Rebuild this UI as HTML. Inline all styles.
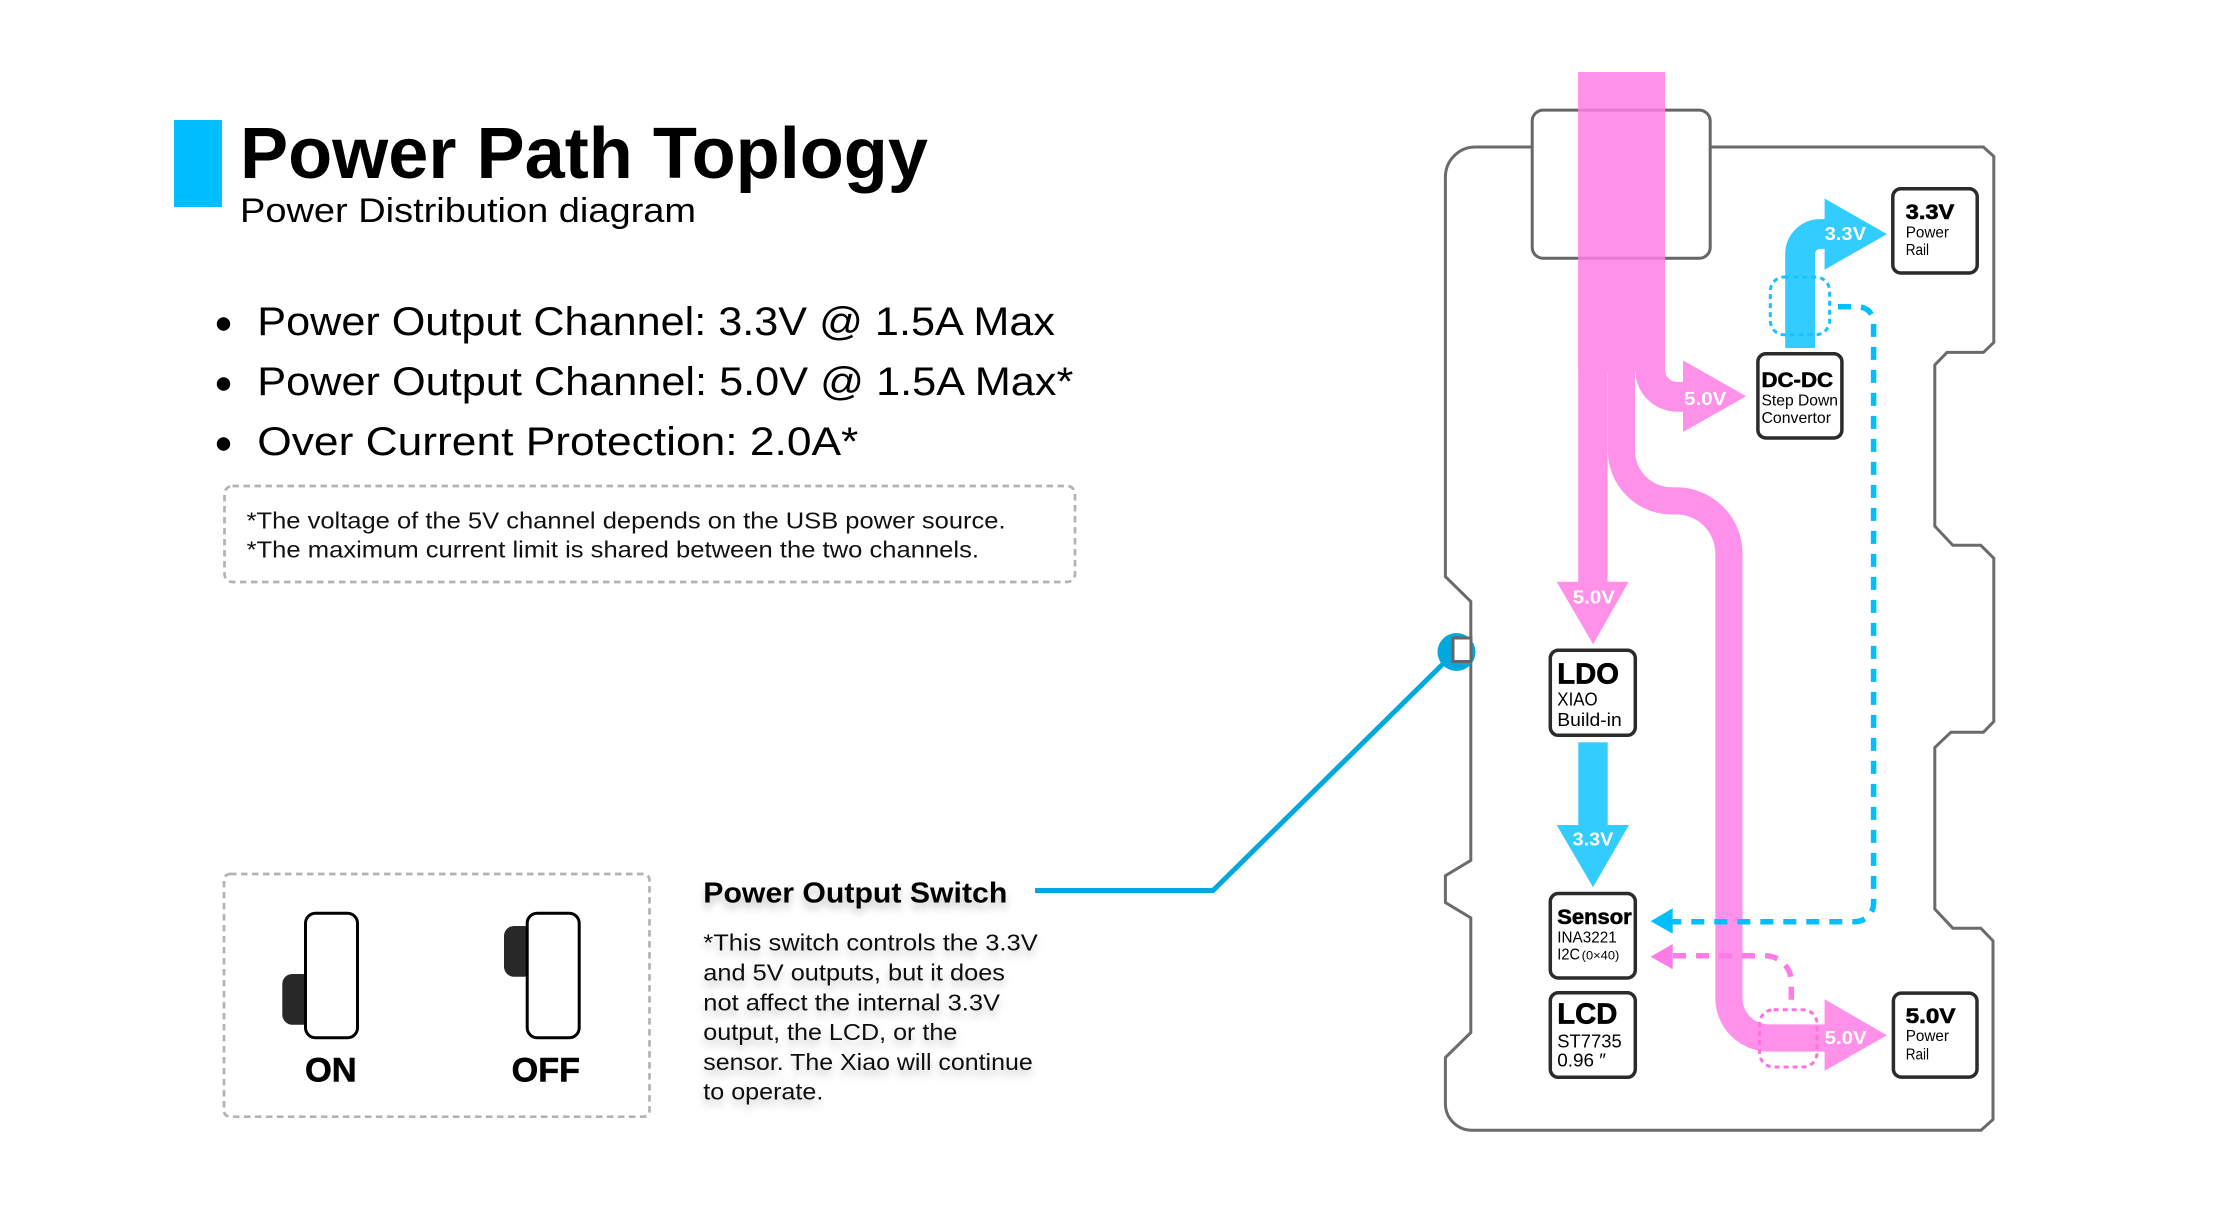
<!DOCTYPE html>
<html><head><meta charset="utf-8"><style>html,body{margin:0;padding:0;background:#fff}svg{display:block}</style></head>
<body>
<svg xmlns="http://www.w3.org/2000/svg" width="2223" height="1218" viewBox="0 0 2223 1218" font-family="'Liberation Sans', Arial, sans-serif">
<defs>
<filter id="sh" x="-10%" y="-40%" width="120%" height="180%"><feDropShadow dx="0" dy="6" stdDeviation="4" flood-color="#000" flood-opacity="0.22"/></filter>
</defs>
<rect width="2223" height="1218" fill="#fff"/>

<!-- Title -->
<rect x="174" y="120" width="48" height="87" fill="#00BFFF"/>
<text x="240" y="178" font-size="72" font-weight="bold" fill="#000" textLength="688" lengthAdjust="spacingAndGlyphs">Power Path Toplogy</text>
<text x="240" y="222" font-size="34" fill="#000" textLength="456" lengthAdjust="spacingAndGlyphs">Power Distribution diagram</text>

<!-- Bullets -->
<circle cx="223.5" cy="324" r="6.7" fill="#000"/>
<circle cx="223.5" cy="384" r="6.7" fill="#000"/>
<circle cx="223.5" cy="444" r="6.7" fill="#000"/>
<text x="257.3" y="335" font-size="39.5" fill="#000" textLength="797.7" lengthAdjust="spacingAndGlyphs">Power Output Channel: 3.3V @ 1.5A Max</text>
<text x="257.3" y="395" font-size="39.5" fill="#000" textLength="816" lengthAdjust="spacingAndGlyphs">Power Output Channel: 5.0V @ 1.5A Max*</text>
<text x="257.3" y="455" font-size="39.5" fill="#000" textLength="601" lengthAdjust="spacingAndGlyphs">Over Current Protection: 2.0A*</text>

<!-- Note box -->
<rect x="224.5" y="486" width="850.5" height="96" rx="8" fill="none" stroke="#b3b3b3" stroke-width="2.7" stroke-dasharray="6.5 4.5"/>
<text x="246.6" y="528.5" font-size="23" fill="#111" textLength="759" lengthAdjust="spacingAndGlyphs">*The voltage of the 5V channel depends on the USB power source.</text>
<text x="246.6" y="557.5" font-size="23" fill="#111" textLength="732.4" lengthAdjust="spacingAndGlyphs">*The maximum current limit is shared between the two channels.</text>

<!-- Switch panel -->
<rect x="224" y="874" width="425.5" height="242.7" rx="6" fill="none" stroke="#b3b3b3" stroke-width="2.7" stroke-dasharray="6.5 4.5"/>
<rect x="282.3" y="974" width="30" height="50.7" rx="10" fill="#282828"/>
<rect x="305.5" y="913.2" width="52" height="124.6" rx="10" fill="#fff" stroke="#000" stroke-width="3"/>
<rect x="504" y="926" width="30" height="50.7" rx="10" fill="#282828"/>
<rect x="527.2" y="913.2" width="52" height="124.6" rx="10" fill="#fff" stroke="#000" stroke-width="3"/>
<text x="305" y="1081.7" font-size="34" font-weight="bold" fill="#000" stroke="#000" stroke-width="0.6" textLength="51.7" lengthAdjust="spacingAndGlyphs">ON</text>
<text x="511.7" y="1081.7" font-size="34" font-weight="bold" fill="#000" stroke="#000" stroke-width="0.6" textLength="68.3" lengthAdjust="spacingAndGlyphs">OFF</text>

<!-- Switch description -->
<g filter="url(#sh)">
<text x="703.3" y="902.7" font-size="29" font-weight="bold" fill="#000" textLength="304" lengthAdjust="spacingAndGlyphs">Power Output Switch</text>
<text x="703.3" y="950.7" font-size="23" fill="#111" textLength="334.4" lengthAdjust="spacingAndGlyphs">*This switch controls the 3.3V</text>
<text x="703.3" y="980.5" font-size="23" fill="#111" textLength="301.7" lengthAdjust="spacingAndGlyphs">and 5V outputs, but it does</text>
<text x="703.3" y="1010.3" font-size="23" fill="#111" textLength="296.7" lengthAdjust="spacingAndGlyphs">not affect the internal 3.3V</text>
<text x="703.3" y="1040.2" font-size="23" fill="#111" textLength="254" lengthAdjust="spacingAndGlyphs">output, the LCD, or the</text>
<text x="703.3" y="1070" font-size="23" fill="#111" textLength="329.4" lengthAdjust="spacingAndGlyphs">sensor. The Xiao will continue</text>
<text x="703.3" y="1099.5" font-size="23" fill="#111" textLength="120" lengthAdjust="spacingAndGlyphs">to operate.</text>
</g>

<!-- Connector line -->
<path d="M1035,890.5 H1213 L1450,657" fill="none" stroke="#00A8DE" stroke-width="5"/>

<!-- Board outline -->
<path d="M1445.4,177 A30,30 0 0 1 1475.4,147 H1983.4 L1993.8,156.4 V342.4 L1983.4,352.4 H1947 L1934.8,365 V526.1 L1952.8,545.3 H1980.8 L1993.8,558.3 V721.5 L1983.4,732.2 H1950.9 L1934.8,747.5 V909 L1952.8,928.2 H1980.8 L1993,940.8 V1119.5 L1981,1130.2 H1472 A26.6,26.6 0 0 1 1445.4,1103.6 V1057.5 L1470.8,1032.6 V917.8 L1445.4,902.5 V875.7 L1470.8,860.4 V601.5 L1445.4,576.6 Z" fill="none" stroke="#6b6b6b" stroke-width="3"/>

<!-- switch connector on board -->
<circle cx="1456.5" cy="652" r="19" fill="#00A8DE"/>
<rect x="1453" y="638" width="18" height="23.5" fill="#fff" stroke="#666" stroke-width="3"/>

<!-- USB connector -->
<rect x="1532.2" y="110.1" width="178" height="148.2" rx="11" fill="#fff" stroke="#666" stroke-width="3"/>

<!-- Pink power paths -->
<g opacity="0.85">
  <rect x="1578.2" y="72" width="86.8" height="300" fill="#FF7EE6"/>
  <rect x="1578.2" y="72" width="29.4" height="510.5" fill="#FF7EE6"/>
  <polygon points="1556.7,581.8 1628.7,581.8 1593.1,644.2" fill="#FF7EE6"/>
  <path d="M1650.1,72 V369.8 A27,27 0 0 0 1677.1,396.8 H1686" fill="none" stroke="#FF7EE6" stroke-width="29.8"/>
  <polygon points="1683,360.4 1683,432 1746.2,396.2" fill="#FF7EE6"/>
  <path d="M1621.4,72 V450.4 A50.5,50.5 0 0 0 1671.9,500.9 H1676.3 A52.6,52.6 0 0 1 1728.9,553.5 V998 A40,40 0 0 0 1768.9,1038 H1828" fill="none" stroke="#FF7EE6" stroke-width="27.2"/>
  <polygon points="1824.6,999.3 1824.6,1070.9 1887,1035.3" fill="#FF7EE6"/>
</g>

<!-- Blue paths -->
<rect x="1578.3" y="742.3" width="29.4" height="83.5" fill="#33CCFF"/>
<polygon points="1556.7,825 1629,825 1593,887.3" fill="#33CCFF"/>
<path d="M1800.1,348 V254 A20,20 0 0 1 1820.1,234 H1828" fill="none" stroke="#33CCFF" stroke-width="29.8"/>
<polygon points="1824.6,198.5 1824.6,269.7 1887,234.1" fill="#33CCFF"/>

<!-- Arrow labels -->
<g font-size="18" font-weight="bold" fill="#fff">
<text x="1684.2" y="405.2" textLength="42.1" lengthAdjust="spacingAndGlyphs">5.0V</text>
<text x="1824.6" y="239.9" textLength="41.4" lengthAdjust="spacingAndGlyphs">3.3V</text>
<text x="1572.8" y="603.4" textLength="42.1" lengthAdjust="spacingAndGlyphs">5.0V</text>
<text x="1572.7" y="845.7" textLength="40.6" lengthAdjust="spacingAndGlyphs">3.3V</text>
<text x="1824.6" y="1044.1" textLength="42.1" lengthAdjust="spacingAndGlyphs">5.0V</text>
</g>

<!-- dotted rects -->
<rect x="1770.3" y="277" width="59.3" height="57.8" rx="14" fill="none" stroke="#1AC0FF" stroke-width="3" stroke-dasharray="5 4"/>
<rect x="1759.6" y="1009.7" width="57.4" height="57.3" rx="14" fill="none" stroke="#FF70E0" stroke-width="3" stroke-dasharray="5 4"/>

<!-- dashed connectors -->
<path d="M1838,306.8 H1858 A15.6,15.6 0 0 1 1873.6,322.4 V903 A18.7,18.7 0 0 1 1854.9,921.7 H1672" fill="none" stroke="#00BFFF" stroke-width="5.5" stroke-dasharray="13 10"/>
<polygon points="1650.7,921.2 1672.7,908.3 1672.7,933.8" fill="#00BFFF"/>
<path d="M1673,955.8 H1765.3 A26,26 0 0 1 1791.3,981.8 V1006" fill="none" stroke="#FF7BE5" stroke-width="5.5" stroke-dasharray="13 10"/>
<polygon points="1650.7,956.7 1672.7,944 1672.7,969.3" fill="#FF7BE5"/>

<!-- Component boxes -->
<g fill="#fff" stroke="#2b2b2b" stroke-width="3.5">
<rect x="1757.9" y="353.8" width="84" height="84.2" rx="8"/>
<rect x="1892.8" y="188.8" width="84.4" height="84.2" rx="8"/>
<rect x="1550.3" y="650.3" width="85" height="85" rx="8"/>
<rect x="1550.3" y="893.5" width="85" height="84.5" rx="8"/>
<rect x="1550.3" y="992.8" width="85" height="84.5" rx="8"/>
<rect x="1893.4" y="993.1" width="83.6" height="84" rx="8"/>
</g>

<g fill="#000">
<text x="1761.5" y="387.2" font-size="21" font-weight="bold" stroke="#000" stroke-width="0.6" textLength="71.5" lengthAdjust="spacingAndGlyphs">DC-DC</text>
<text x="1761.5" y="405.6" font-size="16" textLength="76.5" lengthAdjust="spacingAndGlyphs">Step Down</text>
<text x="1761.5" y="422.8" font-size="16" textLength="69.5" lengthAdjust="spacingAndGlyphs">Convertor</text>

<text x="1905.7" y="219" font-size="21" font-weight="bold" stroke="#000" stroke-width="0.6" textLength="48.6" lengthAdjust="spacingAndGlyphs">3.3V</text>
<text x="1905.7" y="237.3" font-size="16" textLength="43.3" lengthAdjust="spacingAndGlyphs">Power</text>
<text x="1905.7" y="255" font-size="16" textLength="23.3" lengthAdjust="spacingAndGlyphs">Rail</text>

<text x="1905.7" y="1023" font-size="21" font-weight="bold" stroke="#000" stroke-width="0.6" textLength="49.8" lengthAdjust="spacingAndGlyphs">5.0V</text>
<text x="1905.7" y="1041.2" font-size="16" textLength="43.3" lengthAdjust="spacingAndGlyphs">Power</text>
<text x="1905.7" y="1059.4" font-size="16" textLength="23.3" lengthAdjust="spacingAndGlyphs">Rail</text>

<text x="1557.3" y="683.3" font-size="29" font-weight="bold" stroke="#000" stroke-width="0.7" textLength="61.7" lengthAdjust="spacingAndGlyphs">LDO</text>
<text x="1557.3" y="705.7" font-size="18" textLength="40.4" lengthAdjust="spacingAndGlyphs">XIAO</text>
<text x="1557.3" y="726" font-size="18" textLength="64.4" lengthAdjust="spacingAndGlyphs">Build-in</text>

<text x="1557.3" y="923.8" font-size="21" font-weight="bold" stroke="#000" stroke-width="0.6" textLength="74.4" lengthAdjust="spacingAndGlyphs">Sensor</text>
<text x="1557.3" y="942.3" font-size="16" textLength="59.4" lengthAdjust="spacingAndGlyphs">INA3221</text>
<text x="1557.3" y="959.3" font-size="16" textLength="22.7" lengthAdjust="spacingAndGlyphs">I2C</text>
<text x="1581.7" y="959.3" font-size="11.5" textLength="37.6" lengthAdjust="spacingAndGlyphs">(0×40)</text>

<text x="1557.3" y="1023.5" font-size="29" font-weight="bold" stroke="#000" stroke-width="0.7" textLength="60" lengthAdjust="spacingAndGlyphs">LCD</text>
<text x="1557.3" y="1047.3" font-size="18" textLength="64.4" lengthAdjust="spacingAndGlyphs">ST7735</text>
<text x="1557.3" y="1066.7" font-size="18" textLength="48.7" lengthAdjust="spacingAndGlyphs">0.96 ″</text>
</g>
</svg>
</body></html>
